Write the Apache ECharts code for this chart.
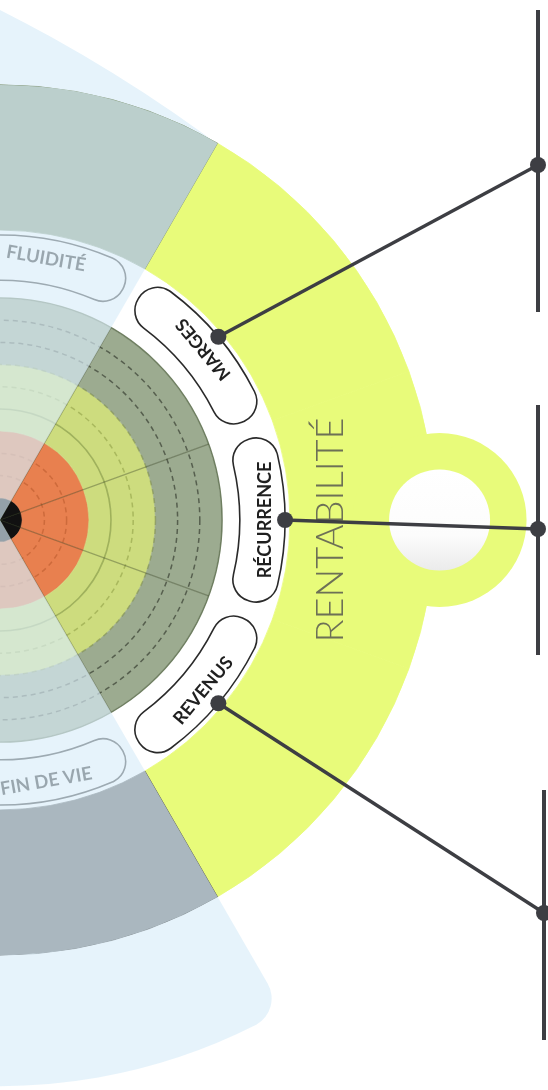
<!DOCTYPE html>
<html><head><meta charset="utf-8">
<script src="https://cdn.jsdelivr.net/npm/echarts@6/dist/echarts.min.js"></script>
<style>html,body{margin:0;padding:0;background:#fff}#c{width:548px;height:1090px}</style>
</head><body><div id="c"></div><script>
// ---------------- data ----------------
const pillars = ['RENTABILITÉ', 'P2', 'P3'];
const criteria = ['MARGES', 'RÉCURRENCE', 'REVENUS', 'FIN DE VIE', 'c5', 'c6', 'c7', 'c8', 'FLUIDITÉ'];
const criterionPillar = [0, 0, 0, 1, 1, 1, 2, 2, 2];
const hiddenCriteria = ['c5', 'c6', 'c7', 'c8'];
const levelStops = [1, 4, 5, 7, 10];          // core, then level bands on a 0-10 scale
const scaleMax = 10;

// ---------------- layout / style ----------------
const CX = 0, CY = 520, U = 22.2;             // centre and px per level unit
const whiteBand = [10, 13.06], colorBand = [13.06, 19.6], outerReach = 25.5;
const pillBand = [10.8, 12.84];
const knobR = 19.8, titleR = 14.9;
const bandColors = ['#111111', '#e8804f', '#cddc7e', '#cddc7e', '#9cab90'];
const pillarColors = ['#e8fb7a', '#4f5151', '#819575'];
const overlay = 'rgba(217,237,249,0.66)';
const ink = '#3d3e43';
const calloutLayout = {
  x: [538, 538, 544],
  junction: [165, 529, 913],
  bar: [[10, 312], [405, 655], [790, 1040]]
};

const N = criteria.length;
const active = criteria.map((c, i) => criterionPillar[i] === 0);
const activeIdx = criteria.map((c, i) => i).filter(i => active[i]);

// rating ring bars (polar 0)
const ratingSeries = levelStops.map((stop, k) => {
  const w = stop - (k ? levelStops[k - 1] : 0);
  return {
    type: 'bar', coordinateSystem: 'polar', polarIndex: 0, stack: 'lv',
    barCategoryGap: '0%', silent: true, z: 1,
    itemStyle: { color: bandColors[k], borderColor: bandColors[k], borderWidth: 0.6 },
    data: criteria.map(() => w)
  };
});

// outer bands (polar 1)
const outerSeries = [
  { type: 'bar', coordinateSystem: 'polar', polarIndex: 1, stack: 'ob', barCategoryGap: '0%', silent: true, z: 1,
    itemStyle: { color: 'transparent' }, data: criteria.map(() => whiteBand[0]) },
  { type: 'bar', coordinateSystem: 'polar', polarIndex: 1, stack: 'ob', barCategoryGap: '0%', silent: true, z: 1,
    itemStyle: { color: '#ffffff', borderColor: '#ffffff', borderWidth: 0.6 },
    data: criteria.map(() => whiteBand[1] - whiteBand[0]) },
  { type: 'bar', coordinateSystem: 'polar', polarIndex: 1, stack: 'ob', barCategoryGap: '0%', silent: true, z: 1,
    data: criteria.map((c, i) => {
      const col = pillarColors[criterionPillar[i]];
      return { value: colorBand[1] - colorBand[0], itemStyle: { color: col, borderColor: col, borderWidth: 0.8 } };
    }) }
];

const mid = i => 40 - 40 * i;   // mid angle of a criterion (deg)
function normAng(a) { while (a > 180) a -= 360; while (a <= -180) a += 360; return a; }

const pillData = [];
criteria.forEach((c, i) => {
  const gap = { value: 2, itemStyle: { color: 'transparent', borderWidth: 0 }, label: { show: false } };
  const th = normAng(mid(i));
  const rot = th > 60 ? th - 90 : th + 90;
  pillData.push(gap);
  pillData.push({ value: 36, name: c, label: { show: hiddenCriteria.indexOf(c) < 0, rotate: rot,
    fontSize: active[i] ? 18 : 18.5 } });
  pillData.push(Object.assign({}, gap));
});

const radialColors = [];
for (let i = 0; i <= N; i++) radialColors.push((i <= 3 || i === N) ? 'rgba(50,60,30,0.38)' : 'rgba(0,0,0,0)');
const dashColors = ['rgba(0,0,0,0)', 'rgba(0,0,0,0)', 'rgba(150,60,20,0.32)', 'rgba(150,60,20,0.32)',
  'rgba(0,0,0,0)', 'rgba(0,0,0,0)', 'rgba(110,125,40,0.38)', 'rgba(110,125,40,0.38)',
  'rgba(40,45,35,0.6)', 'rgba(40,45,35,0.6)', 'rgba(0,0,0,0)'];
const solidColors = ['rgba(0,0,0,0)', 'rgba(120,140,60,0.55)', '#6f7f61', 'rgba(0,0,0,0)', 'rgba(0,0,0,0)', 'rgba(0,0,0,0)'];

const hideAxis = { axisLine: { show: false }, axisTick: { show: false }, axisLabel: { show: false } };

const DOT_SERIES = 14;
const option = {
  animation: false,
  polar: [{ center: [CX, CY], radius: scaleMax * U }, { center: [CX, CY], radius: outerReach * U }],
  angleAxis: [
    Object.assign({ polarIndex: 0, type: 'category', data: criteria, startAngle: 60, z: 2,
      splitLine: { show: true, lineStyle: { color: radialColors, width: 1.2 } } }, hideAxis),
    Object.assign({ polarIndex: 1, type: 'category', data: criteria, startAngle: 60,
      splitLine: { show: false } }, hideAxis)
  ],
  radiusAxis: [
    Object.assign({ polarIndex: 0, type: 'value', min: 0, max: scaleMax, interval: 1, z: 2,
      splitLine: { show: true, lineStyle: { color: dashColors, type: [5, 4], width: 1.5 } } }, hideAxis),
    Object.assign({ polarIndex: 1, type: 'value', min: 0, max: outerReach, interval: 5, z: 2,
      splitLine: { show: true, lineStyle: { color: solidColors, width: 1.6 } } }, hideAxis)
  ],
  grid: { left: 0, top: 0, width: 548, height: 1090 },
  xAxis: { type: 'value', min: 0, max: 548, show: false },
  yAxis: { type: 'value', min: 0, max: 1090, inverse: true, show: false },
  series: [].concat(ratingSeries, outerSeries, [
    // 8 knob
    { type: 'scatter', coordinateSystem: 'polar', polarIndex: 1, z: 3, silent: true, symbolSize: 174,
      itemStyle: { color: pillarColors[0], opacity: 1 }, data: [[knobR, activeIdx[1]]] },
    // 9 knob inner
    { type: 'scatter', coordinateSystem: 'polar', polarIndex: 1, z: 3, silent: true, symbolSize: 101,
      itemStyle: { opacity: 1, color: new echarts.graphic.LinearGradient(0, 0, 0, 1, [
        { offset: 0, color: '#ffffff' }, { offset: 0.65, color: '#fcfcfc' }, { offset: 1, color: '#ebebeb' }]) },
      data: [[knobR, activeIdx[1]]] },
    // 10 pillar title
    { type: 'scatter', coordinateSystem: 'polar', polarIndex: 1, z: 3, silent: true, symbolSize: 1,
      itemStyle: { color: 'transparent' },
      label: { show: true, position: 'inside', formatter: pillars[0], rotate: 90, offset: [-10, 0],
        fontFamily: 'Lato', fontWeight: 300, fontSize: 38, color: '#4d4d4d' },
      data: [[titleR, activeIdx[1]]] },
    // 11 pills
    { type: 'pie', center: [CX, CY], radius: [pillBand[0] * U, pillBand[1] * U], startAngle: 60, clockwise: true,
      silent: true, z: 4, emphasis: { disabled: true }, labelLine: { show: false },
      label: { show: true, position: 'inside', fontFamily: 'Lato', fontWeight: 'bold', fontSize: 18, color: '#1f1f1f' },
      itemStyle: { color: '#ffffff', borderRadius: 22, borderColor: '#2a2a2a', borderWidth: 1.6 },
      data: pillData },
    // 12 overlay on the other pillars
    { type: 'pie', center: [CX, CY], radius: [0, colorBand[1] * U], startAngle: -60, clockwise: true,
      silent: true, z: 5, emphasis: { disabled: true }, label: { show: false }, labelLine: { show: false },
      data: [{ value: 240, itemStyle: { color: overlay } }, { value: 120, itemStyle: { color: 'transparent' } }] },
    // 13 outer overlay, lower part
    { type: 'pie', center: [CX, CY], radius: [colorBand[1] * U, outerReach * U], startAngle: -60, clockwise: true,
      silent: true, z: 5, emphasis: { disabled: true }, label: { show: false }, labelLine: { show: false },
      data: [{ value: 40, itemStyle: { color: overlay, borderRadius: [0, 30] } }, { value: 320, itemStyle: { color: 'transparent' } }] },
    // 14 pill dots
    { type: 'scatter', coordinateSystem: 'polar', polarIndex: 1, z: 7, silent: true, symbolSize: 16,
      itemStyle: { color: ink, opacity: 1 }, data: activeIdx.map(i => [pillBand[1], i]) },
    // 15 upper light wedge (under everything)
    { type: 'pie', center: [-676, 1349], radius: 1500, startAngle: 72, clockwise: true,
      silent: true, z: 0, emphasis: { disabled: true }, label: { show: false }, labelLine: { show: false },
      data: [{ value: 22, itemStyle: { color: '#e6f3fb' } }, { value: 338, itemStyle: { color: 'transparent' } }] }
  ])
};

const chart = echarts.init(document.getElementById('c'));
chart.setOption(option);

// leader lines built from the dots' pixel positions
const extra = [];
activeIdx.forEach((i, k) => {
  let p = chart.convertToPixel({ seriesIndex: DOT_SERIES }, [pillBand[1], i]);
  if (!p || isNaN(p[0])) {
    const a = mid(i) * Math.PI / 180;
    p = [CX + pillBand[1] * U * Math.cos(a), CY - pillBand[1] * U * Math.sin(a)];
  }
  const jx = calloutLayout.x[k], jy = calloutLayout.junction[k];
  extra.push({ type: 'line', data: [[p[0], p[1]], [jx, jy]], symbol: 'none', silent: true, z: 6,
    lineStyle: { color: ink, width: 3.4 } });
  extra.push({ type: 'line', data: [[jx, calloutLayout.bar[k][0]], [jx, calloutLayout.bar[k][1]]], symbol: 'none',
    silent: true, z: 6, lineStyle: { color: ink, width: 4 } });
});
extra.push({ type: 'scatter', symbolSize: 16, silent: true, z: 7, itemStyle: { color: ink, opacity: 1 },
  data: activeIdx.map((i, k) => [calloutLayout.x[k], calloutLayout.junction[k]]) });
chart.setOption({ series: option.series.concat(extra) });
</script></body></html>
